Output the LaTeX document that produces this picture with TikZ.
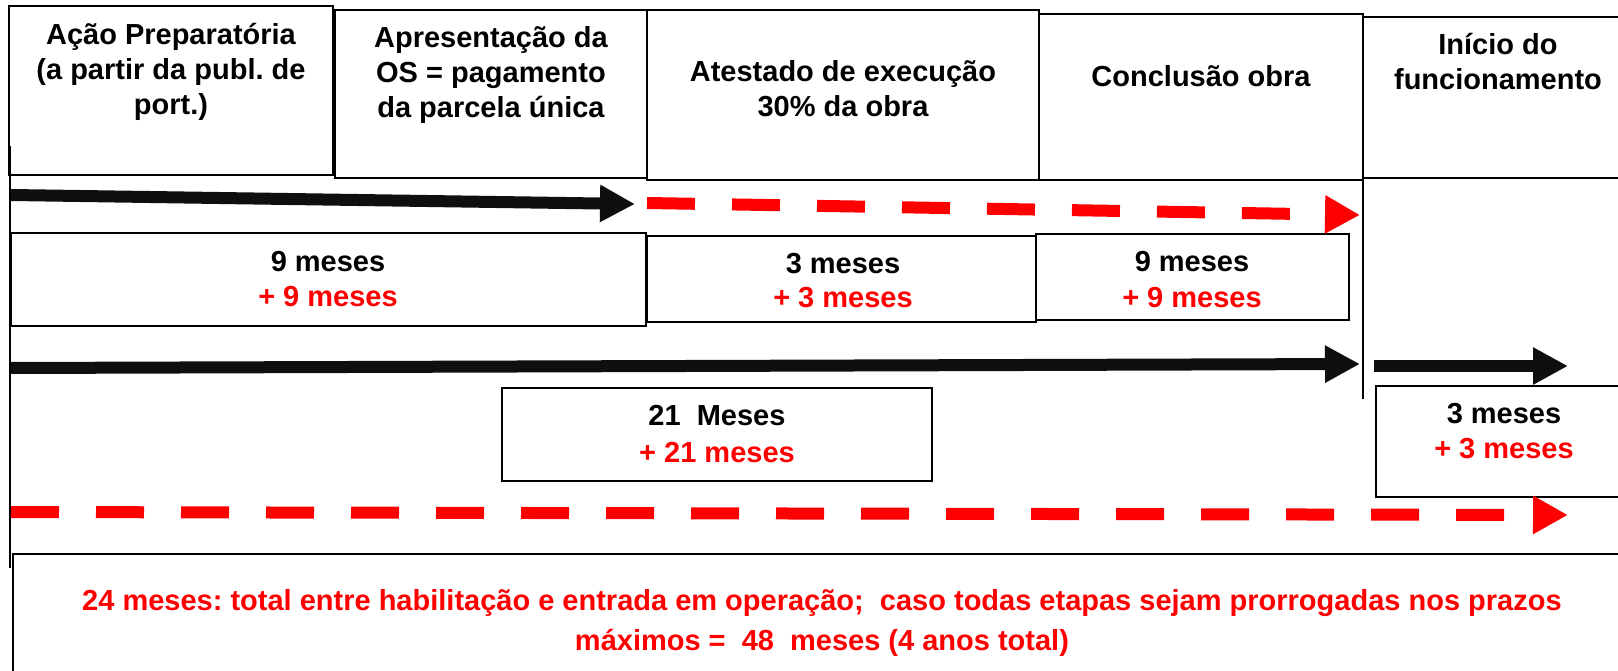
\documentclass[tikz,border=0pt]{standalone}
\usepackage{fontspec}
\setmainfont{Liberation Sans}
\usetikzlibrary{arrows.meta}
\definecolor{myred}{RGB}{255,0,0}
\definecolor{ink}{RGB}{15,15,15}
\frenchspacing
\begin{document}
\begin{tikzpicture}[x=1pt,y=-1pt,
  box/.style={draw=black, line width=2pt, inner sep=0pt, outer sep=0pt, anchor=north west},
  lbl/.style={anchor=base, inner sep=0pt, font=\fontsize{29}{35}\selectfont\bfseries},
  redlbl/.style={lbl, text=myred},
  blackarrow/.style={line width=12pt, ink, -{Triangle[length=35pt,width=35pt]}},
  redarrow/.style={line width=12pt, myred, dash pattern=on 48pt off 37pt, -{Triangle[length=35pt,width=36pt]}},
  sepline/.style={line width=2pt, black}
]
\clip (0,0) rectangle (1618,671);
\fill[white] (0,0) rectangle (1618,671);

% header boxes
\node[box, minimum width=324pt, minimum height=169pt] (b1) at (9,6) {};
\node[box, minimum width=312pt, minimum height=168pt] (b2) at (335,10) {};
\node[box, minimum width=392pt, minimum height=170pt] (b3) at (647,10) {};
\node[box, minimum width=324pt, minimum height=166pt] (b4) at (1039,14) {};
\node[box, minimum width=270pt, minimum height=161pt] (b5) at (1363,17) {};

% duration boxes
\node[box, minimum width=635pt, minimum height=93pt] (m1) at (11,233) {};
\node[box, minimum width=389pt, minimum height=86pt] (m2) at (647,236) {};
\node[box, minimum width=313pt, minimum height=86pt] (m3) at (1036,234) {};
\node[box, minimum width=430pt, minimum height=93pt] (m4) at (502,388) {};
\node[box, minimum width=256pt, minimum height=111pt] (m5) at (1376,386) {};
\node[box, minimum width=1620pt, minimum height=150pt] (bot) at (12.5,554) {};

% separators
\coordinate (v1t) at (10,146); \coordinate (v1b) at (10,568);
\coordinate (v2t) at (1363,178); \coordinate (v2b) at (1363,399);
\draw[sepline] (v1t) -- (v1b);
\draw[sepline] (v2t) -- (v2b);

% arrows
\coordinate (a1s) at (11,195); \coordinate (a1e) at (635,204);
\coordinate (r1s) at (647,203); \coordinate (r1e) at (1360,215);
\coordinate (a2s) at (11,368); \coordinate (a2e) at (1360,364);
\coordinate (a3s) at (1374,366); \coordinate (a3e) at (1568,366);
\coordinate (r2s) at (11,512); \coordinate (r2e) at (1568,515);
\draw[blackarrow] (a1s) -- (a1e);
\draw[redarrow] (r1s) -- (r1e);
\draw[blackarrow] (a2s) -- (a2e);
\draw[blackarrow] (a3s) -- (a3e);
\draw[redarrow] (r2s) -- (r2e);

% header texts
\node[lbl] (t1a) at (171,45) {Ação Preparatória};
\node[lbl] (t1b) at (171,80) {(a partir da publ. de};
\node[lbl] (t1c) at (171,115) {port.)};
\node[lbl] (t2a) at (491,48) {Apresentação da};
\node[lbl] (t2b) at (491,83) {OS = pagamento};
\node[lbl] (t2c) at (491,118) {da parcela única};
\node[lbl] (t3a) at (843,82) {Atestado de execução};
\node[lbl] (t3b) at (843,117) {30\% da obra};
\node[lbl] (t4) at (1201,87) {Conclusão obra};
\node[lbl] (t5a) at (1498,55) {Início do};
\node[lbl] (t5b) at (1498,90) {funcionamento};

% duration texts
\node[lbl] (m1a) at (328,272) {9 meses};
\node[redlbl] (m1b) at (328,306) {+ 9 meses};
\node[lbl] (m2a) at (843,273) {3 meses};
\node[redlbl] (m2b) at (843,308) {+ 3 meses};
\node[lbl] (m3a) at (1192,272) {9 meses};
\node[redlbl] (m3b) at (1192,307) {+ 9 meses};
\node[lbl] (m4a) at (717,425) {21\ \ Meses};
\node[redlbl] (m4b) at (717,462) {+ 21 meses};
\node[lbl] (m5a) at (1504,423) {3 meses};
\node[redlbl] (m5b) at (1504,458) {+ 3 meses};

% bottom texts
\node[redlbl] (ba) at (822,610) {24 meses: total entre habilitação e entrada em operação;\ \ caso todas etapas sejam prorrogadas nos prazos};
\node[redlbl] (bb) at (822,650) {máximos =\ \ 48\ \ meses (4 anos total)};
\end{tikzpicture}
\end{document}
